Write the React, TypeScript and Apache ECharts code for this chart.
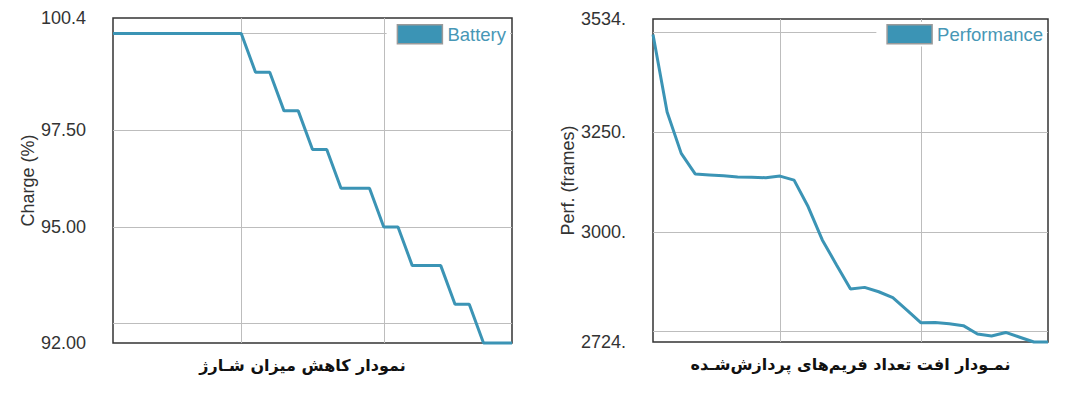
import React, { useEffect, useRef } from "react";
import * as echarts from "echarts";

// Left chart: battery charge (stepwise)
const batteryX = [0, 9, 10, 11, 12, 13, 14, 15, 16, 18, 19, 20, 21, 23, 24, 25, 26, 28];
const batteryY = [100, 100, 99, 99, 98, 98, 97, 97, 96, 96, 95, 95, 94, 94, 93, 93, 92, 92];
const batteryGridValues = [92.5, 95, 97.5, 100];
const batteryLabelValues = [92, 95, 97.5, 100.4];

// Right chart: performance (frames)
const perfX = [0, 1, 2, 3, 4, 5, 6, 7, 8, 9, 10, 11, 12, 13, 14, 15, 16, 17, 18, 19, 20, 21, 22, 23, 24, 25, 26, 27, 28];
const perfY = [3495, 3301, 3197, 3145, 3143, 3141, 3138, 3137, 3136, 3140, 3130, 3063, 2980, 2918, 2857, 2861, 2850, 2835, 2804, 2772, 2773, 2770, 2765, 2744, 2739, 2748, 2736, 2724, 2724];
const perfGridValues = [2750, 3000, 3250, 3500];
const perfLabelValues = [2724, 3000, 3250, 3534];

const xGridValues = [9, 19];

const LINE = "#3b94b5";
const TEXT_BLUE = "#4797b6";
const FONT = "'Liberation Sans', Arial, sans-serif";

function xAxisCfg(gridIndex: number, name: string, shiftLeft: number) {
  return {
    type: "value",
    gridIndex,
    min: 0,
    max: 28,
    name,
    nameLocation: "middle",
    nameGap: 14,
    nameTextStyle: {
      fontSize: 16,
      color: "#111",
      fontFamily: "'DejaVu Sans', sans-serif",
      fontWeight: "bold",
      padding: [0, shiftLeft * 2, 0, 0],
    },
    axisLine: { show: false },
    axisTick: { show: false, customValues: xGridValues },
    axisLabel: { show: false },
    splitLine: { show: true, lineStyle: { color: "#bdbdbd", width: 1 } },
  };
}

function yAxisCfg(
  gridIndex: number,
  name: string,
  min: number,
  max: number,
  gridVals: number[],
  labelVals: number[],
  fmt: (v: number) => string
) {
  return {
    type: "value",
    gridIndex,
    min,
    max,
    name,
    nameLocation: "middle",
    nameGap: 76,
    nameTextStyle: { fontSize: 18, color: "#333", fontFamily: FONT },
    axisLine: { show: false },
    axisTick: { show: false, customValues: gridVals },
    axisLabel: {
      customValues: labelVals,
      formatter: fmt,
      fontSize: 18,
      color: "#333",
      fontFamily: FONT,
      margin: 27,
    },
    splitLine: { show: true, lineStyle: { color: "#bdbdbd", width: 1 } },
  };
}

export default function App() {
  const ref = useRef<HTMLDivElement>(null);
  useEffect(() => {
    if (!ref.current) return;
    const chart = echarts.init(ref.current, null, { renderer: "svg" });
    const legendBase = {
      orient: "horizontal",
      icon: "rect",
      itemWidth: 45,
      itemHeight: 19,
      itemGap: 5,
      padding: [2, 4, 2, 10],
      backgroundColor: "#fff",
      itemStyle: { color: LINE, borderColor: "#9a9a9a", borderWidth: 1.5 },
      textStyle: { fontSize: 18.5, color: TEXT_BLUE, fontFamily: FONT },
      selectedMode: false,
      z: 5,
    };
    chart.setOption({
      animation: false,
      backgroundColor: "#fff",
      grid: [
        { left: 113, top: 18, width: 399, height: 325, show: true, borderColor: "#333", borderWidth: 1.5, backgroundColor: "transparent" },
        { left: 653, top: 19, width: 395, height: 323, show: true, borderColor: "#333", borderWidth: 1.5, backgroundColor: "transparent" },
      ],
      legend: [
        { ...legendBase, data: ["Battery"], right: 570, top: 22 },
        { ...legendBase, data: ["Performance"], right: 33, top: 22 },
      ],
      xAxis: [
        xAxisCfg(0, "نمودار کاهش میزان شـارژ", 10),
        xAxisCfg(1, "نمـودار افت تعداد فریم‌های پردازش‌شـده", 0),
      ],
      yAxis: [
        yAxisCfg(0, "Charge (%)", 92, 100.4, batteryGridValues, batteryLabelValues, (v: number) =>
          v === 100.4 ? "100.4" : v.toFixed(2)
        ),
        yAxisCfg(1, "Perf. (frames)", 2724, 3534, perfGridValues, perfLabelValues, (v: number) => `${v}.`),
      ],
      series: [
        {
          name: "Battery",
          type: "line",
          xAxisIndex: 0,
          yAxisIndex: 0,
          data: batteryX.map((x, i) => [x, batteryY[i]]),
          showSymbol: false,
          clip: false,
          lineStyle: { color: LINE, width: 3 },
          itemStyle: { color: LINE },
          z: 3,
        },
        {
          name: "Performance",
          type: "line",
          xAxisIndex: 1,
          yAxisIndex: 1,
          data: perfX.map((x, i) => [x, perfY[i]]),
          showSymbol: false,
          clip: false,
          lineStyle: { color: LINE, width: 3 },
          itemStyle: { color: LINE },
          z: 3,
        },
      ],
    });
    return () => chart.dispose();
  }, []);
  return (
    <div
      ref={ref}
      style={{ position: "absolute", left: 0, top: 0, width: 1080, height: 403 }}
    />
  );
}
